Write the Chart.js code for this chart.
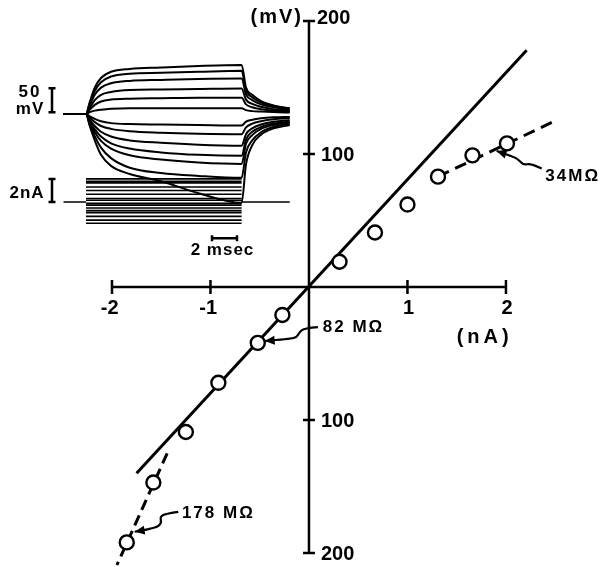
<!DOCTYPE html>
<html>
<head>
<meta charset="utf-8">
<script src="https://cdn.jsdelivr.net/npm/chart.js@4.4.0/dist/chart.umd.min.js"></script>
<style>
html,body{margin:0;padding:0;background:#fff;}
#wrap{width:608px;height:567px;}
</style>
</head>
<body>
<div id="wrap"><canvas id="ivChart" width="608" height="567"></canvas></div>
<script>
// I-V points
var current_nA = [-1.85, -1.58, -1.25, -0.92, -0.52, -0.27, 0.31, 0.67, 1.0, 1.31, 1.66, 2.01];
var voltage_mV = [-192, -147, -109, -72, -42, -21, 19, 41, 62, 83, 99, 108];

// slope lines
var fit82_x = [-1.75, 2.21], fit82_y = [-140, 178];
var fit34_x = [1.31, 2.5], fit34_y = [83, 125];
var fit178_x = [-1.44, -1.95], fit178_y = [-125, -209];

var xTicks = [-2, -1, 0, 1, 2];
var xTickLabels = ['-2', '-1', '', '1', '2'];
var yTicks = [-200, -100, 0, 100, 200];
var yTickLabels = ['200', '100', '', '100', '200'];

// inset: membrane potential traces (mV) at these times (msec)
var traceTime = [-1.8, 0, 0.3, 0.7, 1.2, 2, 3.5, 6, 9, 12.45, 12.8, 13.3, 14, 15, 16.3];
var trace1 = [0, 0, 25, 55, 75, 88, 94, 97, 100, 102, 55, 40, 27, 18, 12];
var trace2 = [0, 0, 22, 48, 66, 78, 84, 86, 88, 90, 49, 35, 24, 16, 11];
var trace3 = [0, 0, 18, 40, 55, 64, 69, 71, 73, 74, 41, 29, 20, 14, 9];
var trace4 = [0, 0, 13, 29, 40, 46, 50, 51, 52, 53, 30, 21, 15, 10, 7];
var trace5 = [0, 0, 9, 19, 26, 30, 32, 33, 34, 34, 20, 14, 10, 7, 5];
var trace6 = [0, 0, 4, 7, 9, 11, 12, 12, 12, 12, 8, 6, 5, 4, 3];
var trace7 = [0, 0, -5, -10, -15, -19, -21, -22, -23, -24, -16, -12, -9, -7, -6];
var trace8 = [0, 0, -8, -17, -25, -31, -36, -39, -41, -42, -28, -20, -15, -11, -9];
var trace9 = [0, 0, -12, -25, -37, -47, -55, -60, -64, -66, -42, -30, -22, -16, -13];
var trace10 = [0, 0, -15, -32, -47, -61, -72, -80, -85, -87, -53, -37, -27, -20, -16];
var trace11 = [0, 0, -18, -38, -56, -72, -86, -95, -101, -104, -62, -44, -31, -23, -18];
var trace12 = [0, 0, -22, -46, -70, -92, -112, -123, -129, -133, -80, -55, -38, -27, -20];
var trace13 = [0, 0, -25, -55, -85, -108, -125, -140, -165, -185, -105, -65, -43, -30, -23];

// inset: current steps (nA), on from 0 to 12.45 msec
var stepOn = [0, 12.45];
var stepCurrents = [2.01, 1.8, 1.66, 1.31, 1.0, 0.67, 0.31, 0.15, -0.12, -0.27, -0.52, -0.75, -0.92, -1.25, -1.58, -1.85];
var baseTime = [-1.8, 0, null, 12.45, 16.3];

// calibration bars
var barMV = [3.5, 53.5];
var barNA = [0, 2];
var barMS = [10.08, 12.08];

function pts(xs, ys) {
  var out = [];
  for (var i = 0; i < xs.length; i++) out.push({x: xs[i], y: ys[i]});
  return out;
}

var datasets = [];
datasets.push({
  data: pts(current_nA, voltage_mV), xAxisID: 'x', yAxisID: 'y',
  showLine: false, pointRadius: 7, pointBorderWidth: 2.4,
  pointBackgroundColor: '#fff', pointBorderColor: '#000'
});
[[fit82_x, fit82_y, []], [fit34_x, fit34_y, [12, 7]], [fit178_x, fit178_y, [11, 6]]].forEach(function(f){
  datasets.push({
    data: pts(f[0], f[1]), xAxisID: 'x', yAxisID: 'y', showLine: true,
    borderColor: '#000', borderWidth: 3, borderDash: f[2], pointRadius: 0
  });
});
[trace1, trace2, trace3, trace4, trace5, trace6, trace7, trace8, trace9, trace10, trace11, trace12, trace13].forEach(function(tr){
  datasets.push({
    data: pts(traceTime, tr), xAxisID: 'tx', yAxisID: 'mv', showLine: true,
    borderColor: '#000', borderWidth: 2, pointRadius: 0, cubicInterpolationMode: 'monotone'
  });
});
stepCurrents.forEach(function(c){
  datasets.push({
    data: pts(stepOn, [c, c]), xAxisID: 'tx', yAxisID: 'na', showLine: true,
    borderColor: '#000', borderWidth: 1.6, pointRadius: 0
  });
});
datasets.push({
  data: pts(baseTime, [0, 0, null, 0, 0]), xAxisID: 'tx', yAxisID: 'na', showLine: true,
  borderColor: '#000', borderWidth: 1.6, pointRadius: 0, spanGaps: false
});

var annotations = [
  {text: '82 MΩ', x: 0.14, y: -30, arrow: [[0.091,-30.1],[-0.051,-30.8],[-0.102,-34.6],[-0.122,-37.6],[-0.193,-39.1],[-0.45,-40.6]]},
  {text: '34MΩ', x: 2.40, y: 83.5, arrow: [[2.363,89.2],[2.25,93],[2.18,91.7],[2.13,95.5],[2.08,98],[1.905,102.3]]},
  {text: '178 MΩ', x: -1.29, y: -170, arrow: [[-1.327,-169],[-1.445,-170.2],[-1.513,-172.7],[-1.495,-177.7],[-1.563,-181.5],[-1.77,-184]]}
];

var FONT = '"Liberation Sans", Arial, sans-serif';

function drawText(ctx, s, x, y, size, align, spacing) {
  ctx.font = 'bold ' + size + 'px ' + FONT;
  ctx.letterSpacing = (spacing || 0) + 'px';
  ctx.textAlign = align;
  ctx.textBaseline = 'middle';
  ctx.fillText(s, x, y);
  ctx.letterSpacing = '0px';
}

var figurePlugin = {
  id: 'figurePlugin',
  beforeDatasetsDraw: function(chart) {
    var ctx = chart.ctx, sx = chart.scales.x, sy = chart.scales.y;
    var x0 = sx.getPixelForValue(0), y0 = sy.getPixelForValue(0);
    ctx.save();
    ctx.strokeStyle = '#000';
    ctx.lineWidth = 2.5;
    ctx.beginPath();
    ctx.moveTo(sx.getPixelForValue(xTicks[0]), y0);
    ctx.lineTo(sx.getPixelForValue(xTicks[xTicks.length - 1]), y0);
    ctx.moveTo(x0, sy.getPixelForValue(yTicks[0]));
    ctx.lineTo(x0, sy.getPixelForValue(yTicks[yTicks.length - 1]));
    xTicks.forEach(function(t){
      var px = sx.getPixelForValue(t);
      ctx.moveTo(px, y0 - 7); ctx.lineTo(px, y0 + 7);
    });
    yTicks.forEach(function(t){
      var py = sy.getPixelForValue(t);
      ctx.moveTo(x0 - 6, py); ctx.lineTo(x0 + 6, py);
    });
    ctx.stroke();
    ctx.restore();
  },
  afterDatasetsDraw: function(chart) {
    var ctx = chart.ctx, sx = chart.scales.x, sy = chart.scales.y;
    var x0 = sx.getPixelForValue(0), y0 = sy.getPixelForValue(0);
    ctx.save();
    ctx.fillStyle = '#000';
    ctx.strokeStyle = '#000';

    // tick labels
    xTicks.forEach(function(t, i){
      var s = xTickLabels[i];
      if (!s) return;
      var px = sx.getPixelForValue(t);
      ctx.font = 'bold 20px ' + FONT;
      var digits = s.replace('-', '');
      var w = ctx.measureText(digits).width;
      drawText(ctx, s, px + w / 2 + 1, y0 + 21, 20, 'right');
    });
    yTicks.forEach(function(t, i){
      var s = yTickLabels[i];
      if (!s) return;
      var top = i === yTicks.length - 1;
      drawText(ctx, s, x0 + (top ? 8 : 12), sy.getPixelForValue(t) + (top ? -3 : 1), 20, 'left');
    });
    drawText(ctx, '(mV)', x0 - 6, sy.getPixelForValue(yTicks[yTicks.length - 1]) - 4, 20, 'right', 2);
    drawText(ctx, '(nA)', sx.getPixelForValue(1.5), sy.getPixelForValue(-38), 20, 'left', 4);

    // resistance labels with curly arrows
    annotations.forEach(function(a){
      drawText(ctx, a.text, sx.getPixelForValue(a.x), sy.getPixelForValue(a.y), 17, 'left', 2);
      var p = a.arrow.map(function(q){ return [sx.getPixelForValue(q[0]), sy.getPixelForValue(q[1])]; });
      ctx.lineWidth = 2.2;
      ctx.beginPath();
      ctx.moveTo(p[0][0], p[0][1]);
      for (var i = 1; i < p.length - 2; i++) {
        var mx = (p[i][0] + p[i + 1][0]) / 2, my = (p[i][1] + p[i + 1][1]) / 2;
        ctx.quadraticCurveTo(p[i][0], p[i][1], mx, my);
      }
      var a1 = p[p.length - 2], a2 = p[p.length - 1];
      ctx.quadraticCurveTo(a1[0], a1[1], a2[0], a2[1]);
      ctx.stroke();
      var ang = Math.atan2(a2[1] - a1[1], a2[0] - a1[0]);
      ctx.beginPath();
      ctx.moveTo(a2[0], a2[1]);
      ctx.lineTo(a2[0] - 10 * Math.cos(ang) + 4.5 * Math.sin(ang), a2[1] - 10 * Math.sin(ang) - 4.5 * Math.cos(ang));
      ctx.lineTo(a2[0] - 10 * Math.cos(ang) - 4.5 * Math.sin(ang), a2[1] - 10 * Math.sin(ang) + 4.5 * Math.cos(ang));
      ctx.closePath();
      ctx.fill();
    });

    // inset calibration bars
    var tx = chart.scales.tx, mv = chart.scales.mv, na = chart.scales.na;
    var bx = tx.getPixelForValue(-2.72);
    ctx.lineWidth = 2.5;
    ctx.beginPath();
    var v1 = mv.getPixelForValue(barMV[0]), v2 = mv.getPixelForValue(barMV[1]);
    ctx.moveTo(bx, v1); ctx.lineTo(bx, v2);
    ctx.moveTo(bx - 3.5, v1); ctx.lineTo(bx + 3.5, v1);
    ctx.moveTo(bx - 3.5, v2); ctx.lineTo(bx + 3.5, v2);
    var c1 = na.getPixelForValue(barNA[0]), c2 = na.getPixelForValue(barNA[1]);
    ctx.moveTo(bx, c1); ctx.lineTo(bx, c2);
    ctx.moveTo(bx - 3.5, c1); ctx.lineTo(bx + 3.5, c1);
    ctx.moveTo(bx - 3.5, c2); ctx.lineTo(bx + 3.5, c2);
    var by = mv.getPixelForValue(-259);
    var t1 = tx.getPixelForValue(barMS[0]), t2 = tx.getPixelForValue(barMS[1]);
    ctx.moveTo(t1, by); ctx.lineTo(t2, by);
    ctx.moveTo(t1, by - 3); ctx.lineTo(t1, by + 3);
    ctx.moveTo(t2, by - 3); ctx.lineTo(t2, by + 3);
    ctx.stroke();
    drawText(ctx, '50', bx - 22, v2 + 4, 17, 'center', 2);
    drawText(ctx, 'mV', bx - 22, v1 - 3, 17, 'center', 1);
    drawText(ctx, '2nA', bx - 25, c1 - 9, 17, 'center', 1);
    drawText(ctx, '2 msec', (t1 + t2) / 2 - 2, by + 12, 17, 'center', 1);
    ctx.restore();
  }
};

var ctx = document.getElementById('ivChart');
var ivChart = new Chart(ctx, {
  type: 'scatter',
  data: {datasets: datasets},
  options: {
    responsive: false,
    animation: false,
    devicePixelRatio: 1,
    events: [],
    layout: {padding: 0, autoPadding: false},
    plugins: {legend: {display: false}, tooltip: {enabled: false}},
    scales: {
      x: {type: 'linear', display: false, min: -3.137, max: 3.036},
      y: {type: 'linear', display: false, min: -210.5, max: 215.8},
      tx: {type: 'linear', axis: 'x', display: false, min: -6.88, max: 41.76},
      mv: {type: 'linear', axis: 'y', display: false, min: -943.75, max: 237.5},
      na: {type: 'linear', axis: 'y', display: false, min: -31.739, max: 17.565}
    }
  },
  plugins: [figurePlugin]
});
</script>
</body>
</html>
